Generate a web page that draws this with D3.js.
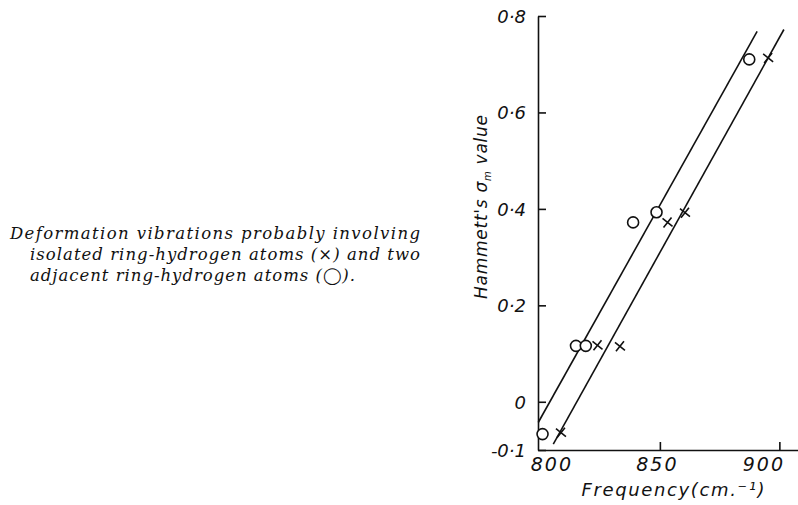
<!DOCTYPE html>
<html>
<head>
<meta charset="utf-8">
<script src="https://cdn.jsdelivr.net/npm/d3@7"></script>
<style>
  body { margin: 0; background: #fff; }
  svg { display: block; }
</style>
</head>
<body>
<div id="chart"></div>
<script>
// Frequencies (cm-1) and Hammett sigma_m values
const circleFreq = [800.9, 814.9, 819.0, 838.8, 848.6, 887.4];
const circleSigma = [-0.067, 0.116, 0.116, 0.372, 0.393, 0.71];
const crossFreq = [808.6, 823.9, 833.3, 853.2, 860.5, 895.3];
const crossSigma = [-0.064, 0.117, 0.115, 0.372, 0.392, 0.713];

// fitted straight lines, given by their two end points
const circleLineFreq = [799.1, 890.7];
const circleLineSigma = [-0.043, 0.768];
const crossLineFreq = [805.4, 901.9];
const crossLineSigma = [-0.088, 0.772];

const xTicks = [800, 850, 900];
const yTicks = [-0.1, 0, 0.2, 0.4, 0.6, 0.8];
const yTickLabels = ['-0·1', '0', '0·2', '0·4', '0·6', '0·8'];

const captionLines = [
    'Deformation vibrations probably involving',
    'isolated ring-hydrogen atoms (\u00d7) and two',
    'adjacent ring-hydrogen atoms (\u25ef).'
];

const svg = d3.select('#chart').append('svg').attr('width', 798).attr('height', 505);

const x = d3.scaleLinear().domain([799, 907.8]).range([538, 798]);
const y = d3.scaleLinear().domain([-0.1, 0.8]).range([450, 16]);

const ink = '#111';
const handFont = '"DejaVu Sans", sans-serif';

// y axis, ticks pointing inward
const yAxis = svg.append('g')
    .attr('transform', `translate(${x(799)},0)`)
    .call(d3.axisLeft(y).tickValues(yTicks).tickSize(-8).tickSizeOuter(0).tickPadding(12)
        .tickFormat((d, i) => yTickLabels[i]));

// x axis
const xAxis = svg.append('g')
    .attr('transform', `translate(0,${y(-0.1)})`)
    .call(d3.axisBottom(x).tickValues(xTicks).tickSize(-8).tickSizeOuter(0).tickPadding(8)
        .tickFormat(d3.format('d')));

[yAxis, xAxis].forEach(ax => {
    ax.selectAll('path, line').attr('stroke', ink).attr('stroke-width', 1.6);
    ax.selectAll('text')
        .attr('fill', ink)
        .style('font-family', handFont)
        .style('font-style', 'oblique');
});
yAxis.selectAll('text').style('font-size', '18px').attr('dy', '0.35em');
xAxis.selectAll('text').style('font-size', '19px').style('letter-spacing', '2px');
// hand lettered labels sit a little off their ticks
const xLabelShift = {800: 11, 850: -3, 900: -16};
xAxis.selectAll('.tick text').attr('dx', d => xLabelShift[d]);
xAxis.selectAll('.tick').filter(d => d === 800).select('line').remove();

// fitted lines
const line = d3.line().x(d => x(d[0])).y(d => y(d[1]));
[[circleLineFreq, circleLineSigma], [crossLineFreq, crossLineSigma]].forEach(([f, s]) => {
    svg.append('path')
        .datum(d3.zip(f, s))
        .attr('d', line)
        .attr('fill', 'none')
        .attr('stroke', ink)
        .attr('stroke-width', 1.6);
});

// circles: two adjacent ring hydrogens
svg.append('g').selectAll('circle')
    .data(d3.zip(circleFreq, circleSigma))
    .join('circle')
    .attr('cx', d => x(d[0]))
    .attr('cy', d => y(d[1]))
    .attr('r', 5.5)
    .attr('fill', '#fff')
    .attr('stroke', ink)
    .attr('stroke-width', 1.6);

// crosses: isolated ring hydrogens
const cs = 5;
svg.append('g').selectAll('path')
    .data(d3.zip(crossFreq, crossSigma))
    .join('path')
    .attr('d', d => {
        const cx = x(d[0]), cy = y(d[1]);
        return `M${cx - cs},${cy - cs + 1}L${cx + cs},${cy + cs - 1}M${cx - cs + 1},${cy + cs}L${cx + cs - 1},${cy - cs}`;
    })
    .attr('stroke', ink)
    .attr('stroke-width', 1.6)
    .attr('fill', 'none');

// axis titles
svg.append('text')
    .attr('x', 673)
    .attr('y', 496)
    .attr('text-anchor', 'middle')
    .attr('textLength', 183)
    .attr('lengthAdjust', 'spacing')
    .style('font-family', handFont)
    .style('font-style', 'oblique')
    .style('font-size', '18px')
    .attr('fill', ink)
    .text('Frequency(cm.\u207b\u00b9)');

const yTitle = svg.append('text')
    .attr('transform', 'translate(487,207) rotate(-90)')
    .attr('text-anchor', 'middle')
    .attr('textLength', 184)
    .attr('lengthAdjust', 'spacing')
    .style('font-family', handFont)
    .style('font-style', 'oblique')
    .style('font-size', '17px')
    .attr('fill', ink);
yTitle.append('tspan').text("Hammett's \u03c3");
yTitle.append('tspan').attr('dy', 4).style('font-size', '10px').text('m');
yTitle.append('tspan').attr('dy', -4).text(' value');

// caption, first line hangs out to the left
const capX = [10, 30, 30];
const capW = [410, 390, 325];
svg.append('g').selectAll('text')
    .data(captionLines)
    .join('text')
    .attr('x', (d, i) => capX[i])
    .attr('y', (d, i) => 239 + i * 21)
    .attr('textLength', (d, i) => capW[i])
    .attr('lengthAdjust', 'spacing')
    .style('font-family', '"DejaVu Serif", serif')
    .style('font-style', 'italic')
    .style('font-size', '16.5px')
    .attr('fill', ink)
    .text(d => d);
</script>
</body>
</html>
